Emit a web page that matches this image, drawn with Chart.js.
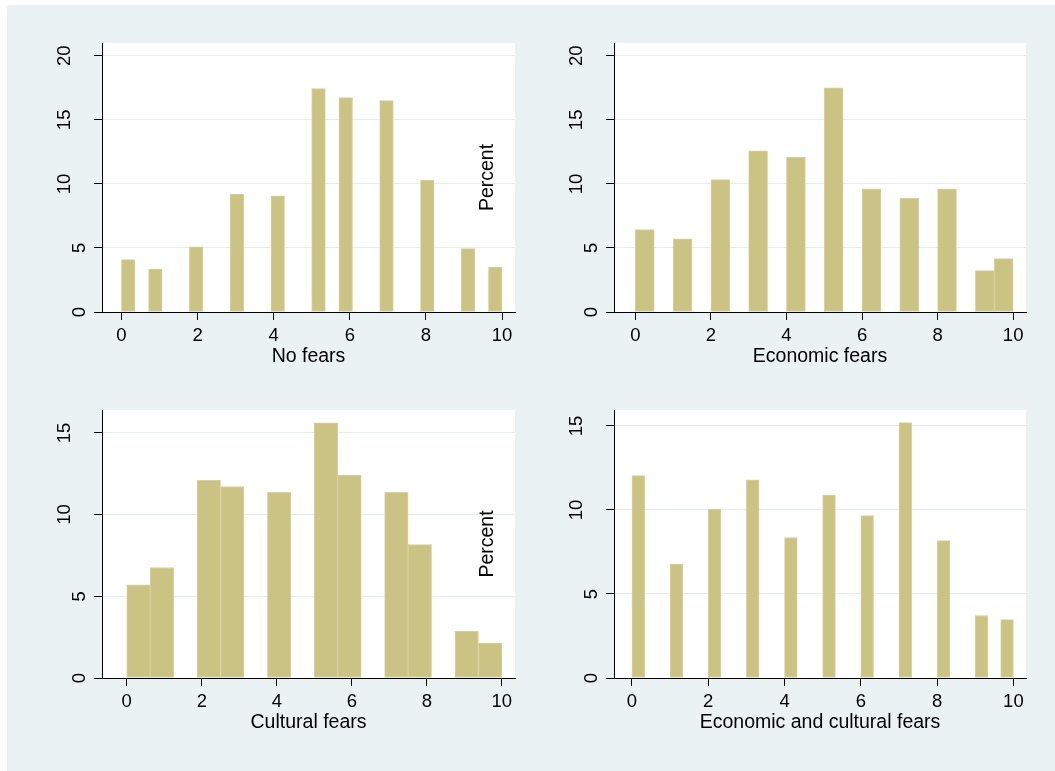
<!DOCTYPE html>
<html>
<head>
<meta charset="utf-8">
<script src="https://cdn.jsdelivr.net/npm/chart.js@4.4.1/dist/chart.umd.min.js"></script>
<style>
  html, body { margin: 0; padding: 0; background: #ffffff; width: 1055px; height: 771px; overflow: hidden; }
  #bg { position: absolute; left: 7px; top: 5px; width: 1048px; height: 766px; background: #eaf2f3; }
  canvas { position: absolute; }
</style>
</head>
<body>
<div id="bg"></div>
<canvas id="c1" width="480" height="345" style="left:40px;top:30px"></canvas>
<canvas id="c3" width="480" height="346" style="left:40px;top:395px"></canvas>
<canvas id="c2" width="570" height="345" style="left:470px;top:30px"></canvas>
<canvas id="c4" width="570" height="346" style="left:470px;top:395px"></canvas>
<script>
// ---------- data ----------
const scores = [0, 1, 2, 3, 4, 5, 6, 7, 8, 9, 10];
const noFearsPct       = [4.09, 3.36, 5.08, 9.20, 9.07, 17.44, 16.74, 16.51, 10.30, 4.95, 3.49];
const economicPct      = [6.44, 5.71, 10.33, 12.59, 12.07, 17.50, 9.62, 8.89, 9.62, 3.23, 4.17];
const culturalPct      = [5.70, 6.76, 12.09, 11.72, 11.36, 15.61, 12.42, 11.36, 8.16, 2.85, 2.14];
const bothPct          = [12.05, 6.78, 10.05, 11.79, 8.36, 10.88, 9.67, 15.20, 8.18, 3.72, 3.47];
const binCounts        = [28, 20, 16, 30];
const panelTitles      = ['No fears', 'Economic fears', 'Cultural fears', 'Economic and cultural fears'];
const xTickValues      = [0, 2, 4, 6, 8, 10];
const yTicksTop        = [0, 5, 10, 15, 20];
const yTicksBottom     = [0, 5, 10, 15];
const yAxisTitle       = 'Percent';

// ---------- helpers ----------
const FONT = '"Liberation Sans", Arial, sans-serif';

function binData(pct, nb) {
  const w = 10 / nb;
  const out = [];
  for (let b = 0; b < nb; b++) out.push({ x: (b + 0.5) * w, y: null });
  scores.forEach((s, i) => {
    const b = Math.min(Math.floor(s / w + 1e-9), nb - 1);
    out[b].y = pct[i];
  });
  return out;
}

const plotBg = {
  id: 'plotBg',
  beforeDraw(chart) {
    const { ctx, chartArea: a } = chart;
    ctx.save();
    ctx.fillStyle = '#ffffff';
    ctx.fillRect(a.left, a.top, a.right - a.left, a.bottom - a.top);
    ctx.restore();
  }
};

function zeroPad(s) { s.paddingTop = 0; s.paddingBottom = 0; s.paddingLeft = 0; s.paddingRight = 0; }

function makePanel(id, title, pct, nb, xmin, xmax, ymax, yTicks, isRight, padTop) {
  new Chart(document.getElementById(id), {
    type: 'bar',
    data: {
      datasets: [{
        data: binData(pct, nb),
        backgroundColor: '#cbc384',
        borderColor: '#d9d19b',
        borderWidth: 1,
        borderSkipped: false,
        categoryPercentage: 1.0,
        barPercentage: 1.0
      }]
    },
    plugins: [plotBg],
    options: {
      responsive: false,
      animation: false,
      devicePixelRatio: 1,
      layout: { autoPadding: false, padding: { left: 0, top: padTop, right: isRight ? 14 : 5, bottom: 0 } },
      plugins: { legend: { display: false }, tooltip: { enabled: false } },
      scales: {
        x: {
          type: 'linear',
          min: xmin, max: xmax,
          offset: false,
          afterBuildTicks: s => { s.ticks = xTickValues.map(v => ({ value: v })); },
          afterFit: s => { s.height = 63; zeroPad(s); },
          grid: { drawOnChartArea: false, drawTicks: true, tickLength: 8, tickColor: '#000', offset: false },
          border: { display: true, color: '#000', width: 1, z: 1 },
          ticks: { color: '#000', padding: 5, autoSkip: false, maxRotation: 0, font: { family: FONT, size: 18.5 } },
          title: { display: true, text: title, color: '#000', font: { family: FONT, size: 19.5 }, padding: { top: 0, bottom: 7 } }
        },
        y: {
          type: 'linear',
          min: 0, max: ymax,
          afterBuildTicks: s => { s.ticks = yTicks.map(v => ({ value: v })); },
          afterFit: s => { s.width = isRight ? 144 : 62; zeroPad(s); },
          grid: { color: '#e4eef0', lineWidth: 1, drawTicks: true, tickLength: 8, tickColor: '#000' },
          border: { display: true, color: '#000', width: 1, z: 1 },
          ticks: {
            color: '#000', padding: 3.5, autoSkip: false,
            minRotation: 90, maxRotation: 90, crossAlign: 'center',
            font: { family: FONT, size: 18.5, lineHeight: '31px' },
            callback: v => (v >= 10 ? [String(v), ''] : String(v))
          },
          title: { display: isRight, text: yAxisTitle, color: '#000', font: { family: FONT, size: 19.5 }, padding: { top: 6.3, bottom: 0 } }
        }
      }
    }
  });
}

makePanel('c1', panelTitles[0], noFearsPct, binCounts[0], -0.51, 10.34, 21.0, yTicksTop, false, 13);
makePanel('c3', panelTitles[2], culturalPct, binCounts[2], -0.66, 10.35, 16.4, yTicksBottom, false, 15);
makePanel('c2', panelTitles[1], economicPct, binCounts[1], -0.565, 10.34, 21.0, yTicksTop, true, 13);
makePanel('c4', panelTitles[3], bothPct, binCounts[3], -0.47, 10.33, 15.95, yTicksBottom, true, 15);
</script>
</body>
</html>
